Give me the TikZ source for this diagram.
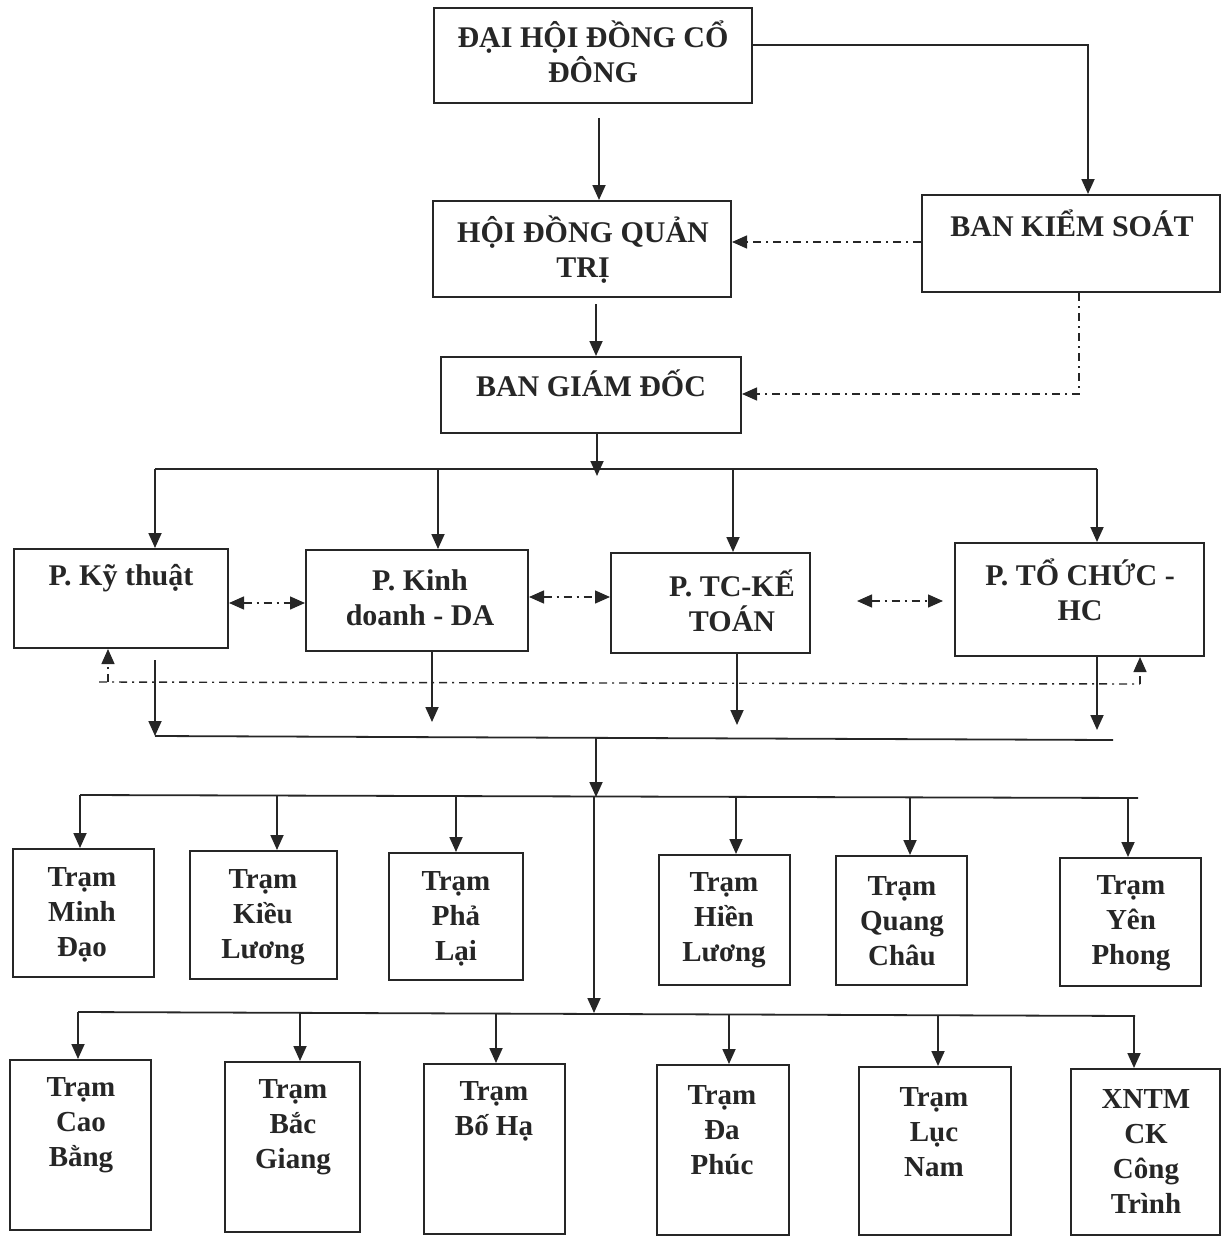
\documentclass[tikz,border=0pt]{standalone}
\usepackage{fontspec}
\setmainfont{Liberation Serif}
\usetikzlibrary{arrows.meta,fit}
\begin{document}
\begin{tikzpicture}[x=0.5pt,y=-0.5pt,
 box/.style={draw=black!85, line width=1pt, inner sep=0pt},
 txt/.style={align=center, inner sep=0pt, text=black!85, font=\fontsize{15}{17.5}\selectfont\bfseries},
 ttx/.style={txt, font=\fontsize{14.5}{17.5}\selectfont\bfseries},
 ln/.style={draw=black!85, line width=0.9pt},
 arr/.style={ln, -{Triangle[length=7.5pt,width=6.5pt]}},
 dd/.style={draw=black!85, line width=0.7pt, dash pattern=on 4pt off 2.5pt on 1pt off 2.5pt},
 darr/.style={dd, -{Triangle[length=7.5pt,width=6.5pt]}},
 dbl/.style={dd, {Triangle[length=7.5pt,width=6.5pt]}-{Triangle[length=7.5pt,width=6.5pt]}}]
\useasboundingbox (0,0) rectangle (1222,1236);

% ---------- boxes ----------
\node[box, fit={(434,8)(752,103)}] (dh) {};
\node[box, fit={(433,201)(731,297)}] (hd) {};
\node[box, fit={(922,195)(1220,292)}] (bk) {};
\node[box, fit={(441,357)(741,433)}] (bg) {};
\node[box, fit={(14,549)(228,648)}] (kt) {};
\node[box, fit={(306,550)(528,651)}] (kd) {};
\node[box, fit={(611,553)(810,653)}] (tc) {};
\node[box, fit={(955,543)(1204,656)}] (tchc) {};
% row 1
\node[box, fit={(13,849)(154,977)}] (md) {};
\node[box, fit={(190,851)(337,979)}] (kl) {};
\node[box, fit={(389,853)(523,980)}] (pl) {};
\node[box, fit={(659,855)(790,985)}] (hl) {};
\node[box, fit={(836,856)(967,985)}] (qc) {};
\node[box, fit={(1060,858)(1201,986)}] (yp) {};
% row 2
\node[box, fit={(10,1060)(151,1230)}] (cb) {};
\node[box, fit={(225,1062)(360,1232)}] (bgi) {};
\node[box, fit={(424,1064)(565,1234)}] (bh) {};
\node[box, fit={(657,1065)(789,1235)}] (dp) {};
\node[box, fit={(859,1067)(1011,1235)}] (ln) {};
\node[box, fit={(1071,1069)(1220,1235)}] (xn) {};

% ---------- texts ----------
\node[txt] (dht) at (593,52) {ĐẠI HỘI ĐỒNG CỔ\\ĐÔNG};
\node[txt] (hdt) at (583,250) {HỘI ĐỒNG QUẢN\\TRỊ};
\node[txt] (bkt) at (1072,223) {BAN KIỂM SOÁT};
\node[txt] (bgt) at (591,383) {BAN GIÁM ĐỐC};
\node[txt] (ktt) at (121,578) {P. Kỹ thuật};
\node[txt] (kdt) at (420,598) {P. Kinh\\doanh - DA};
\node[txt] (tct) at (732,601) {P. TC-KẾ\\TOÁN};
\node[txt] (tchct) at (1080,590) {P. TỔ CHỨC -\\HC};
\node[ttx] (mdt) at (82,915) {Trạm\\Minh\\Đạo};
\node[ttx] (klt) at (263,917) {Trạm\\Kiều\\Lương};
\node[ttx] (plt) at (456,919) {Trạm\\Phả\\Lại};
\node[ttx] (hlt) at (724,920) {Trạm\\Hiền\\Lương};
\node[ttx] (qct) at (902,921) {Trạm\\Quang\\Châu};
\node[ttx] (ypt) at (1131,923) {Trạm\\Yên\\Phong};
\node[ttx] (cbt) at (81,1125) {Trạm\\Cao\\Bằng};
\node[ttx] (bgit) at (293,1127) {Trạm\\Bắc\\Giang};
\node[ttx] (bht) at (494,1111) {Trạm\\Bố Hạ};
\node[ttx] (dpt) at (722,1130) {Trạm\\Đa\\Phúc};
\node[ttx] (lnt) at (934,1132) {Trạm\\Lục\\Nam};
\node[ttx] (xnt) at (1146,1151) {XNTM\\CK\\Công\\Trình};

% ---------- top connectors ----------
\draw[arr] (599,118) -- (599,0 |- hd.north);
\draw[arr] (dh.east |- 0,45) -| (1088,0 |- bk.north);
\draw[darr] (bk.west |- 0,242) -- (hd.east |- 0,242);
\draw[arr] (596,304) -- (596,0 |- bg.north);
\draw[darr] (1079,0 |- bk.south) |- (bg.east |- 0,394);
\draw[arr] (597,0 |- bg.south) -- (597,476);

% ---------- departments bus ----------
\draw[ln] (155,469) -- (1097,469);
\draw[arr] (155,469) -- (155,0 |- kt.north);
\draw[arr] (438,469) -- (438,0 |- kd.north);
\draw[arr] (733,469) -- (733,0 |- tc.north);
\draw[arr] (1097,469) -- (1097,0 |- tchc.north);

\draw[dbl] (kt.east |- 0,603) -- (kd.west |- 0,603);
\draw[dbl] (kd.east |- 0,597) -- (tc.west |- 0,597);
\draw[dbl] (857,601) -- (943,601);

% feedback dash-dot
\draw[dd] (99,682) -- (1140,684);
\draw[darr] (108,682) -- (108,0 |- kt.south);
\draw[darr] (1140,684) -- (1140,0 |- tchc.south);

% lower collector
\draw[arr] (155,660) -- (155,736);
\draw[arr] (432,0 |- kd.south) -- (432,722);
\draw[arr] (737,0 |- tc.south) -- (737,725);
\draw[arr] (1097,0 |- tchc.south) -- (1097,730);
\draw[ln] (155,736) -- (1113,740);
\draw[arr] (596,738) -- (596,797);
\draw[arr] (594,797) -- (594,1013);

% row 1 bus
\draw[ln] (80,795) -- (1138,798);
\draw[arr] (80,795) -- (80,0 |- md.north);
\draw[arr] (277,795) -- (277,0 |- kl.north);
\draw[arr] (456,796) -- (456,0 |- pl.north);
\draw[arr] (736,797) -- (736,0 |- hl.north);
\draw[arr] (910,797) -- (910,0 |- qc.north);
\draw[arr] (1128,798) -- (1128,0 |- yp.north);

% row 2 bus
\draw[ln] (78,1012) -- (1135,1016);
\draw[arr] (78,1012) -- (78,0 |- cb.north);
\draw[arr] (300,1013) -- (300,0 |- bgi.north);
\draw[arr] (496,1013) -- (496,0 |- bh.north);
\draw[arr] (729,1014) -- (729,0 |- dp.north);
\draw[arr] (938,1015) -- (938,0 |- ln.north);
\draw[arr] (1134,1016) -- (1134,0 |- xn.north);
\end{tikzpicture}
\end{document}
